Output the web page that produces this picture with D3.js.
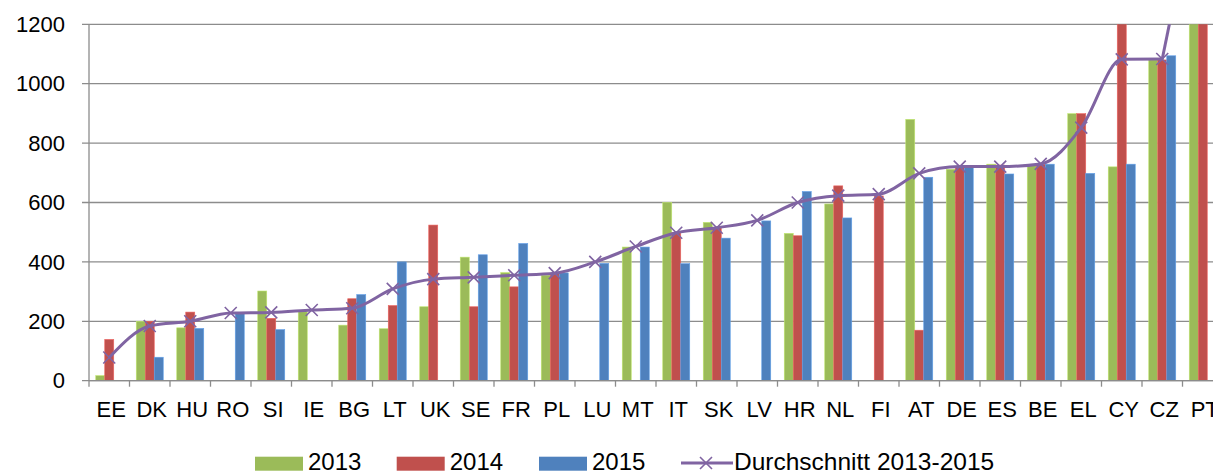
<!DOCTYPE html>
<html>
<head>
<meta charset="utf-8">
<script src="https://cdn.jsdelivr.net/npm/d3@7"></script>
<style>
  body { margin: 0; background: #fff; }
  text { font-family: "Liberation Sans", Arial, sans-serif; fill: #000; }
</style>
</head>
<body>
<div id="chart"></div>
<script>
// country codes on the x axis
var countries = ["EE", "DK", "HU", "RO", "SI", "IE", "BG", "LT", "UK", "SE", "FR", "PL", "LU", "MT",
  "IT", "SK", "LV", "HR", "NL", "FI", "AT", "DE", "ES", "BE", "EL", "CY", "CZ", "PT"];

// values, null = no bar
var v2013 = [17, 200, 178, null, 302, 232, 187, 175, 249, 416, 364, 355, null, 450,
  600, 533, null, 496, 595, null, 880, 712, 729, 724, 899, 720, 1080, 1700];
var v2014 = [139, 200, 231, null, 210, null, 276, 253, 524, 249, 316, 361, null, null,
  499, 515, null, 488, 656, 622, 170, 720, 726, 729, 899, 1800, 1080, 1800];
var v2015 = [null, 79, 176, 226, 172, null, 290, 400, null, 424, 462, 363, 395, 450,
  394, 480, 538, 637, 548, null, 685, 722, 696, 729, 698, 729, 1094, null];
var avg = [78, 184, 200, 228, 230, 238, 244, 309, 342, 348, 355, 362, 400, 452,
  498, 515, 540, 600, 623, 628, 698, 721, 721, 730, 852, 1082, 1083, 1750];

var yTicks = [0, 200, 400, 600, 800, 1000, 1200];
var seriesNames = ["2013", "2014", "2015"];
var lineName = "Durchschnitt 2013-2015";
var colors = ["#9BBB59", "#C0504D", "#4F81BD"];
var lineColor = "#8064A2";

var W = 1213, H = 472;
var margin = { top: 24.3, left: 89, bottom: 380.7 };

var svg = d3.select("#chart").append("svg")
  .attr("width", W)
  .attr("height", H);

var x = d3.scaleBand()
  .domain(countries)
  .range([margin.left, margin.left + countries.length * 40.5]);

var xs = d3.scaleBand()
  .domain([0, 1, 2])
  .range([0, x.bandwidth()])
  .paddingInner(0)
  .paddingOuter(0.75);

var y = d3.scaleLinear()
  .domain([0, 1200])
  .range([margin.bottom, margin.top]);

// gridlines
svg.append("g")
  .selectAll("line")
  .data(yTicks)
  .join("line")
  .attr("x1", margin.left - 7)
  .attr("x2", W)
  .attr("y1", function (d) { return y(d); })
  .attr("y2", function (d) { return y(d); })
  .attr("stroke", "#8c8c8c")
  .attr("stroke-width", 1.3);

// y labels
svg.append("g")
  .selectAll("text")
  .data(yTicks)
  .join("text")
  .attr("x", 65)
  .attr("y", function (d) { return y(d); })
  .attr("dy", "0.35em")
  .attr("text-anchor", "end")
  .style("font-size", "22px")
  .text(function (d) { return d; });

svg.append("clipPath").attr("id", "plotclip")
  .append("rect")
  .attr("x", margin.left)
  .attr("y", margin.top)
  .attr("width", W - margin.left)
  .attr("height", margin.bottom - margin.top);

var plot = svg.append("g").attr("clip-path", "url(#plotclip)");

// bars
[v2013, v2014, v2015].forEach(function (vals, s) {
  plot.append("g")
    .selectAll("rect")
    .data(countries.map(function (c, i) { return { c: c, v: vals[i] }; })
      .filter(function (d) { return d.v != null; }))
    .join("rect")
    .attr("x", function (d) { return x(d.c) + xs(s); })
    .attr("width", xs.bandwidth())
    .attr("y", function (d) { return y(d.v); })
    .attr("height", function (d) { return y(0) - y(d.v); })
    .attr("fill", colors[s])
    .attr("stroke", d3.color(colors[s]).brighter(0.6))
    .attr("stroke-width", 0.6);
});

// average line (smoothed up to CZ, the jump to PT leaves the chart)
var pts = countries.map(function (c, i) { return { c: c, v: avg[i] }; });
var line = d3.line()
  .x(function (d) { return x(d.c) + x.bandwidth() / 2; })
  .y(function (d) { return y(d.v); });

plot.append("path")
  .datum(pts.slice(0, pts.length - 1))
  .attr("fill", "none")
  .attr("stroke", lineColor)
  .attr("stroke-width", 3)
  .attr("stroke-linejoin", "round")
  .attr("d", line.curve(d3.curveMonotoneX));

plot.append("path")
  .datum(pts.slice(pts.length - 2))
  .attr("fill", "none")
  .attr("stroke", lineColor)
  .attr("stroke-width", 3)
  .attr("d", line.curve(d3.curveLinear));

function cross(g, cx, cy, r) {
  g.append("path")
    .attr("d", "M" + (cx - r) + "," + (cy - r) + "L" + (cx + r) + "," + (cy + r) +
      "M" + (cx - r) + "," + (cy + r) + "L" + (cx + r) + "," + (cy - r))
    .attr("stroke", lineColor)
    .attr("stroke-width", 1.6)
    .attr("fill", "none");
}
pts.forEach(function (d) {
  cross(plot, x(d.c) + x.bandwidth() / 2, y(d.v), 6);
});

// axes lines
svg.append("line")
  .attr("x1", margin.left).attr("x2", margin.left)
  .attr("y1", margin.top).attr("y2", margin.bottom)
  .attr("stroke", "#8c8c8c").attr("stroke-width", 1.3);

svg.append("line")
  .attr("x1", margin.left).attr("x2", W)
  .attr("y1", margin.bottom).attr("y2", margin.bottom)
  .attr("stroke", "#8c8c8c").attr("stroke-width", 1.3);

// x ticks on band edges
svg.append("g")
  .selectAll("line")
  .data(countries)
  .join("line")
  .attr("x1", function (d) { return x(d); })
  .attr("x2", function (d) { return x(d); })
  .attr("y1", margin.bottom)
  .attr("y2", margin.bottom + 6)
  .attr("stroke", "#8c8c8c")
  .attr("stroke-width", 1.3);

// x labels
svg.append("g")
  .selectAll("text")
  .data(countries)
  .join("text")
  .attr("x", function (d) { return x(d) + x.bandwidth() / 2 + 2; })
  .attr("y", 417)
  .attr("text-anchor", "middle")
  .style("font-size", "22px")
  .text(function (d) { return d; });

// legend
var legend = svg.append("g");
var legX = [255, 396.7, 539];
seriesNames.forEach(function (n, i) {
  legend.append("rect")
    .attr("x", legX[i]).attr("y", 456.7)
    .attr("width", 48).attr("height", 14)
    .attr("fill", colors[i]);
  legend.append("text")
    .attr("x", legX[i] + 53).attr("y", 469.5)
    .style("font-size", "24px")
    .text(n);
});
legend.append("line")
  .attr("x1", 681).attr("x2", 733)
  .attr("y1", 463).attr("y2", 463)
  .attr("stroke", lineColor).attr("stroke-width", 3);
cross(legend, 706, 463, 6);
legend.append("text")
  .attr("x", 734).attr("y", 469.5)
  .style("font-size", "24.5px")
  .text(lineName);
</script>
</body>
</html>
